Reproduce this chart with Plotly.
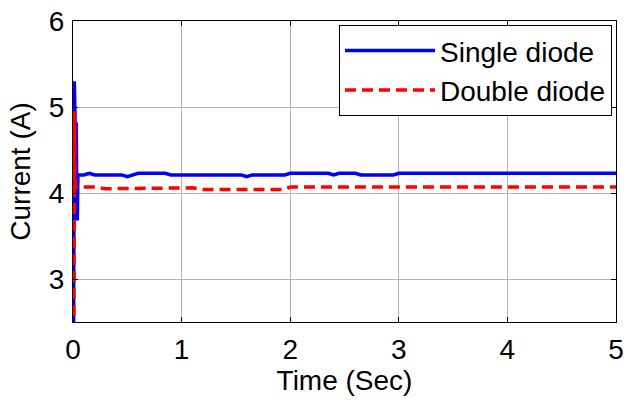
import plotly.graph_objects as go

# Single diode current (A) vs time (s)
t_single = [0.0, 0.008, 0.012, 0.02, 0.028, 0.03, 0.036, 0.04, 0.045, 0.1, 0.15, 0.2, 0.25,
            0.4, 0.45, 0.5, 0.55, 0.6, 0.85, 0.9, 1.5, 1.55, 1.6, 1.65, 1.7, 1.95, 2.0,
            2.3, 2.35, 2.4, 2.45, 2.6, 2.65, 2.95, 3.0, 5.0]
i_single = [0.0, 5.3, 5.3, 4.8, 4.8, 4.8, 3.7, 3.7, 4.21, 4.21, 4.23, 4.21, 4.21,
            4.21, 4.21, 4.19, 4.21, 4.23, 4.23, 4.21, 4.21, 4.21, 4.19, 4.21, 4.21, 4.21, 4.23,
            4.23, 4.23, 4.21, 4.23, 4.23, 4.21, 4.21, 4.23, 4.23]

# Double diode current (A) vs time (s)
t_double = [0.0, 0.01, 0.015, 0.02, 0.1, 0.2, 0.3, 0.35, 0.5, 1.1, 1.2, 1.95, 2.0, 5.0]
i_double = [0.0, 4.95, 4.95, 4.07, 4.07, 4.07, 4.05, 4.05, 4.06, 4.06, 4.04, 4.04, 4.07, 4.07]

x_ticks = [0, 1, 2, 3, 4, 5]
y_ticks = [3, 4, 5, 6]

font_family = "Liberation Sans, Arial, sans-serif"
FS = 28

fig = go.Figure()
fig.add_trace(go.Scatter(x=t_single, y=i_single, mode="lines", name="Single diode",
                         legendgroup="s",
                         line=dict(color="#0000FF", width=3.5)))
fig.add_trace(go.Scatter(x=t_double, y=i_double, mode="lines", name="Double diode",
                         legendgroup="d",
                         line=dict(color="#FF0000", width=3.5, dash="11px,6px")))

axis_common = dict(showline=True, linecolor="black", linewidth=1, mirror="ticks",
                   ticks="inside", ticklen=5, tickcolor="black",
                   showgrid=True, gridcolor="#b4b4b4", gridwidth=1, zeroline=False,
                   tickfont=dict(size=FS, color="black", family=font_family))

fig.update_xaxes(range=[0, 5], tickvals=x_ticks, ticklabelstandoff=2,
                 title=dict(text="Time (Sec)", font=dict(size=FS, color="black", family=font_family), standoff=4),
                 **axis_common)
fig.update_yaxes(range=[2.5, 6], tickvals=y_ticks, ticklabelstandoff=2,
                 title=dict(text="Current (A)", font=dict(size=FS, color="black", family=font_family), standoff=10),
                 **axis_common)

fig.update_layout(
    width=628, height=405,
    margin=dict(l=73, r=12, t=21, b=83, autoexpand=False),
    paper_bgcolor="white", plot_bgcolor="white",
    font=dict(family=font_family, size=FS, color="black"),
    legend=dict(x=0.9926, y=0.987, xanchor="right", yanchor="top",
                bgcolor="white", bordercolor="black", borderwidth=1,
                font=dict(size=FS, color="black", family=font_family),
                itemwidth=90, tracegroupgap=0),
    showlegend=True,
)

fig.write_html("out.html")
